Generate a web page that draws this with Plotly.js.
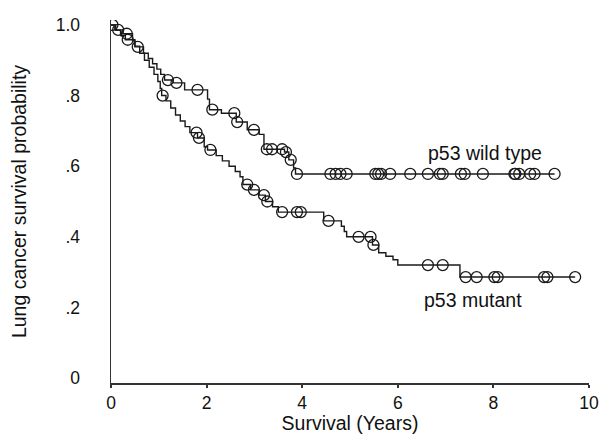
<!DOCTYPE html>
<html>
<head>
<meta charset="utf-8">
<script src="https://cdn.plot.ly/plotly-3.0.1.min.js"></script>
<style>html,body{margin:0;padding:0;background:#fff;}#chart{width:602px;height:438px;}</style>
</head>
<body>
<div id="chart"></div>
<script>
// ---- Data ----
// p53 wild type: event times and survival after each drop
const wildStepTimes = [0.08, 0.25, 0.45, 0.50, 0.68, 0.78, 0.87, 0.96, 1.04, 1.12, 1.30, 1.54, 2.02, 2.06, 2.31, 2.62, 2.85, 3.10, 3.20, 3.63, 3.72, 3.82, 3.86];
const wildStepSurv  = [0.986, 0.975, 0.955, 0.938, 0.920, 0.905, 0.890, 0.875, 0.860, 0.844, 0.836, 0.816, 0.790, 0.760, 0.750, 0.725, 0.703, 0.690, 0.648, 0.640, 0.618, 0.595, 0.578];
const wildCensorTimes = [0.15, 0.33, 0.56, 1.19, 1.37, 1.81, 2.12, 2.58, 2.64, 2.99, 3.26, 3.37, 3.58, 3.66, 3.76, 3.89,
  4.59, 4.70, 4.80, 4.93, 5.53, 5.59, 5.65, 5.84, 6.26, 6.63, 6.88, 6.94, 7.32, 7.40, 7.78, 8.44, 8.46, 8.54, 8.77, 8.86, 9.28];
const wildEnd = 9.28;

// p53 mutant
const mutStepTimes = [0.10, 0.20, 0.30, 0.50, 0.60, 0.70, 0.80, 0.90, 0.98, 1.03, 1.06, 1.15, 1.25, 1.35, 1.45, 1.55, 1.65, 1.81, 1.95, 2.02,
  2.20, 2.33, 2.47, 2.60, 2.70, 2.76, 2.92, 3.10, 3.23, 3.38, 3.50, 4.45, 4.82, 4.88, 4.93, 5.47, 5.60, 5.75, 5.90, 6.00, 7.30];
const mutStepSurv  = [0.985, 0.970, 0.958, 0.940, 0.920, 0.900, 0.880, 0.860, 0.840, 0.820, 0.800, 0.785, 0.765, 0.745, 0.728, 0.712, 0.695, 0.680, 0.655, 0.646,
  0.630, 0.615, 0.600, 0.585, 0.570, 0.548, 0.533, 0.518, 0.500, 0.485, 0.470, 0.445, 0.430, 0.415, 0.400, 0.377, 0.355, 0.345, 0.335, 0.320, 0.286];
const mutCensorTimes = [0.03, 0.35, 1.08, 1.79, 1.84, 2.08, 2.85, 2.99, 3.20, 3.27, 3.58, 3.89, 3.97, 4.55, 5.18, 5.43, 5.49,
  6.63, 6.94, 7.42, 7.65, 8.02, 8.09, 9.06, 9.13, 9.71];
const mutEnd = 9.71;

const xTickVals = [0, 2, 4, 6, 8, 10];
const xTickText = ["0", "2", "4", "6", "8", "10"];
const yTickVals = [0, 0.2, 0.4, 0.6, 0.8, 1.0];
const yTickText = ["0", ".2", ".4", ".6", ".8", "1.0"];

const labels = {wild: "p53 wild type", mut: "p53 mutant"};

// ---- helpers ----
function survAt(t, times, surv) {
  let s = 1.0;
  for (let i = 0; i < times.length; i++) { if (times[i] <= t) s = surv[i]; }
  return s;
}
function stepLine(times, surv, end) {
  const x = [0].concat(times, [end]);
  const y = [1.0].concat(surv, [surv[surv.length - 1]]);
  return {x, y};
}

const ink = '#1a1a1a';
const wl = stepLine(wildStepTimes, wildStepSurv, wildEnd);
const ml = stepLine(mutStepTimes, mutStepSurv, mutEnd);

const traces = [
  {x: wl.x, y: wl.y, mode: 'lines', line: {shape: 'hv', color: ink, width: 1.4}, hoverinfo: 'skip', name: labels.wild},
  {x: ml.x, y: ml.y, mode: 'lines', line: {shape: 'hv', color: ink, width: 1.4}, hoverinfo: 'skip', name: labels.mut},
  {x: wildCensorTimes, y: wildCensorTimes.map(t => survAt(t, wildStepTimes, wildStepSurv)), mode: 'markers',
   marker: {symbol: 'circle-open', size: 11, color: ink, line: {width: 1.3, color: ink}}, name: labels.wild + ' censored'},
  {x: mutCensorTimes, y: mutCensorTimes.map(t => survAt(t, mutStepTimes, mutStepSurv)), mode: 'markers',
   marker: {symbol: 'circle-open', size: 11, color: ink, line: {width: 1.3, color: ink}}, name: labels.mut + ' censored'}
];

const fam = 'Liberation Sans, Arial, Helvetica, sans-serif';
const font = {family: fam, size: 19.5, color: '#111'};
const tickFont = {family: fam, size: 17.5, color: '#111'};

const layout = {
  width: 602, height: 438,
  margin: {l: 111, r: 13, t: 20, b: 55},
  paper_bgcolor: '#fff', plot_bgcolor: '#fff',
  showlegend: false,
  font: font,
  xaxis: {
    range: [0, 10], tickvals: xTickVals, ticktext: xTickText,
    showgrid: false, zeroline: false, showline: true, linecolor: '#333', linewidth: 1.5,
    ticks: 'outside', ticklen: 3, tickwidth: 2, tickcolor: '#333',
    tickfont: tickFont,
    title: {text: 'Survival (Years)', font: font, standoff: 4}
  },
  yaxis: {
    range: [-0.014, 1.014], tickvals: yTickVals, ticktext: yTickText,
    showgrid: false, zeroline: false, showline: true, linecolor: '#333', linewidth: 1.5,
    ticks: 'outside', ticklen: 26, tickcolor: 'rgba(0,0,0,0)',
    tickfont: tickFont,
    title: {text: 'Lung cancer survival probability', font: font, standoff: 24}
  },
  annotations: [
    {x: 6.6, y: 0.6, xref: 'x', yref: 'y', text: labels.wild, showarrow: false, xanchor: 'left', yanchor: 'bottom', font: font},
    {x: 6.5, y: 0.22, xref: 'x', yref: 'y', text: labels.mut, showarrow: false, xanchor: 'left', yanchor: 'middle', font: font}
  ]
};

Plotly.newPlot('chart', traces, layout, {displayModeBar: false, staticPlot: true});
</script>
</body>
</html>
